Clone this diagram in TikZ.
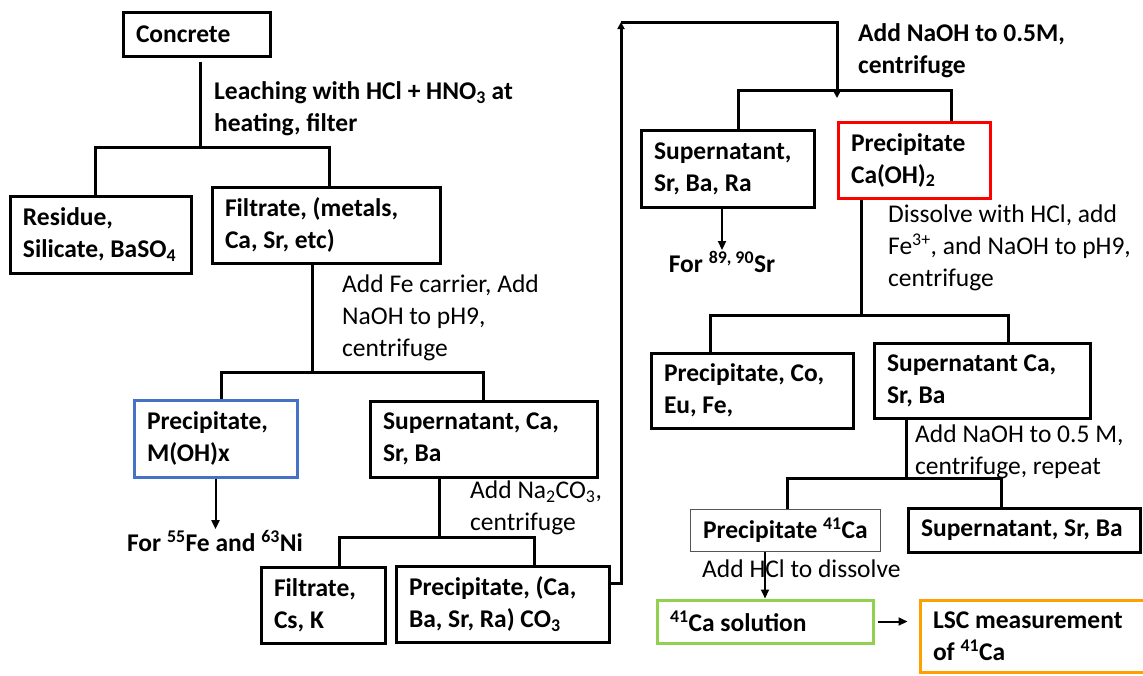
\documentclass[tikz,border=0pt]{standalone}
\usepackage{fontspec}
\setmainfont{Carlito}
\usetikzlibrary{arrows.meta}
\definecolor{boxblue}{HTML}{4472C4}
\definecolor{boxred}{HTML}{FF0000}
\definecolor{boxgreen}{HTML}{92D050}
\definecolor{boxorange}{HTML}{FFA000}
\definecolor{thingray}{HTML}{555555}
\newcommand\fsz{\fontsize{25.5}{32}\selectfont\frenchspacing}
\newcommand\mb[1]{\mbox{\spaceskip=0pt\xspaceskip=0pt #1}}
\begin{document}
\begin{tikzpicture}[x=1pt,y=-1pt,
  box/.style={draw=black, line width=3pt, align=left, inner xsep=13pt, inner ysep=0pt,
    font=\fsz\bfseries},
  conn/.style={line width=3pt},
  arr/.style={line width=2pt, -{Triangle[length=9pt,width=8pt]}},
  looparr/.style={line width=3pt, -{Triangle[length=7pt,width=7pt]}},
  note/.style={anchor=west, align=left, inner sep=0pt, font=\fsz},
  bnote/.style={note, font=\fsz\bfseries},
  label/.style={inner sep=1pt, font=\fsz\bfseries}]
\useasboundingbox (0,0) rectangle (1143,675);

% boxes
\node[box, minimum width=147pt, minimum height=44pt, text width=121pt] (concrete) at (196.5,34) {\mb{Concrete}};
\node[box, minimum width=181pt, minimum height=77pt, text width=155pt] (residue) at (100.5,234.5) {\mb{Residue,}\\\mb{Silicate, BaSO\textsubscript{4}}};
\node[box, minimum width=228pt, minimum height=76pt, text width=202pt] (filtrate) at (326,225) {\mb{Filtrate, (metals,}\\\mb{Ca, Sr, etc)}};
\node[box, draw=boxblue, minimum width=163pt, minimum height=77pt, text width=137pt] (precip) at (215.5,438.5) {\mb{Precipitate,}\\\mb{M(OH)x}};
\node[box, minimum width=227pt, minimum height=76pt, text width=201pt] (super1) at (483.5,439) {\mb{Supernatant, Ca,}\\\mb{Sr, Ba}};
\node[box, minimum width=124pt, minimum height=76pt, text width=98pt] (filtck) at (323,605) {\mb{Filtrate,}\\\mb{Cs, K}};
\node[box, minimum width=213pt, minimum height=76pt, text width=187pt] (precco3) at (502.5,604) {\mb{Precipitate, (Ca,}\\\mb{Ba, Sr, Ra) CO\textsubscript{3}}};
\node[box, minimum width=173pt, minimum height=77pt, text width=147pt] (supsr) at (727.5,168.5) {\mb{Supernatant,}\\\mb{Sr, Ba, Ra}};
\node[box, draw=boxred, minimum width=152pt, minimum height=76pt, text width=126pt] (caoh) at (914,160) {\mb{Precipitate}\\\mb{Ca(OH)\textsubscript{2}}};
\node[box, minimum width=202pt, minimum height=75pt, text width=176pt] (precco) at (752,390.5) {\mb{Precipitate, Co,}\\\mb{Eu, Fe,}};
\node[box, minimum width=216pt, minimum height=75pt, text width=190pt] (supca) at (982,380.5) {\mb{Supernatant Ca,}\\\mb{Sr, Ba}};
\node[box, draw=thingray, line width=1pt, minimum width=190pt, minimum height=42pt, text width=164pt] (prec41) at (785,530) {\mb{Precipitate \textsuperscript{41}Ca}};
\node[box, minimum width=232pt, minimum height=44pt, text width=206pt] (supsrba) at (1024,530) {\mb{Supernatant, Sr, Ba}};
\node[box, draw=boxgreen, minimum width=216pt, minimum height=43pt, text width=190pt] (sol41) at (765,621.5) {\mb{\textsuperscript{41}Ca solution}};
\node[box, draw=boxorange, minimum width=240pt, minimum height=72pt, text width=214pt] (lsc) at (1040,636) {\mb{LSC measurement}\\\mb{of \textsuperscript{41}Ca}};

% annotations
\node[bnote] (leach) at (214,108.5) {Leaching with HCl + HNO\textsubscript{3} at\\heating, filter};
\node[note] (addfe) at (342,318) {Add Fe carrier, Add\\NaOH to pH9,\\centrifuge};
\node[note] (addna) at (470,508) {Add Na\textsubscript{2}CO\textsubscript{3},\\centrifuge};
\node[label] (fe) at (215,541) {For \textsuperscript{55}Fe and \textsuperscript{63}Ni};
\node[bnote] (addnaoh) at (858,50.5) {Add NaOH to 0.5M,\\centrifuge};
\node[label] (sr) at (722,262) {For \textsuperscript{89, 90}Sr};
\node[note] (dissolve) at (888,248) {Dissolve with HCl, add\\Fe\textsuperscript{3+}, and NaOH to pH9,\\centrifuge};
\node[note] (addnaoh2) at (915,451.5) {Add NaOH to 0.5 M,\\centrifuge, repeat};
\node[note] (addhcl) at (702,569) {Add HCl to dissolve};

% junctions
\coordinate (j1) at (200,147);
\coordinate (j2) at (312,372);
\coordinate (j3) at (439,537);
\coordinate (j4) at (837,90);
\coordinate (j5) at (861,315);
\coordinate (j6) at (906,478);
\coordinate (c1) at (621,22);

% tree connectors
\draw[conn, shorten <=4pt] (concrete.south -| j1) -- (j1);
\draw[conn] ([xshift=-5pt]residue.north) |- (j1) -| ([xshift=3pt]filtrate.north);
\draw[conn] (filtrate.south -| j2) -- (j2);
\draw[conn] ([xshift=5.5pt]precip.north) |- (j2) -| (super1.north);
\draw[conn] (super1.south -| j3) -- (j3);
\draw[conn] ([xshift=16pt]filtck.north) |- (j3) -| ([xshift=31.5pt]precco3.north);
\draw[conn] ([xshift=10.5pt]supsr.north) |- (j4) -| ([xshift=37pt]caoh.north);
\draw[conn] (caoh.south -| j5) -- (j5);
\draw[conn] ([xshift=-42pt]precco.north) |- (j5) -| ([xshift=26pt]supca.north);
\draw[conn] (supca.south -| j6) -- (j6);
\draw[conn] ([xshift=2pt]prec41.north) |- (j6) -| ([xshift=-23pt]supsrba.north);

% loop from carbonate precipitate to NaOH step
\draw[looparr] ([yshift=21pt]precco3.east) -| (c1);
\draw[looparr] (c1) -| ([yshift=-8pt]j4);

% thin arrows
\draw[arr] (precip.south) -- (precip.south |- fe.north);
\draw[arr] (supsr.south -| sr.north) -- (sr.north);
\draw[arr] (prec41.south -| sol41.north) -- (sol41.north);
\draw[arr] ([xshift=3pt]sol41.east) -- ([xshift=-11pt]lsc.west |- sol41.east);
\end{tikzpicture}
\end{document}
